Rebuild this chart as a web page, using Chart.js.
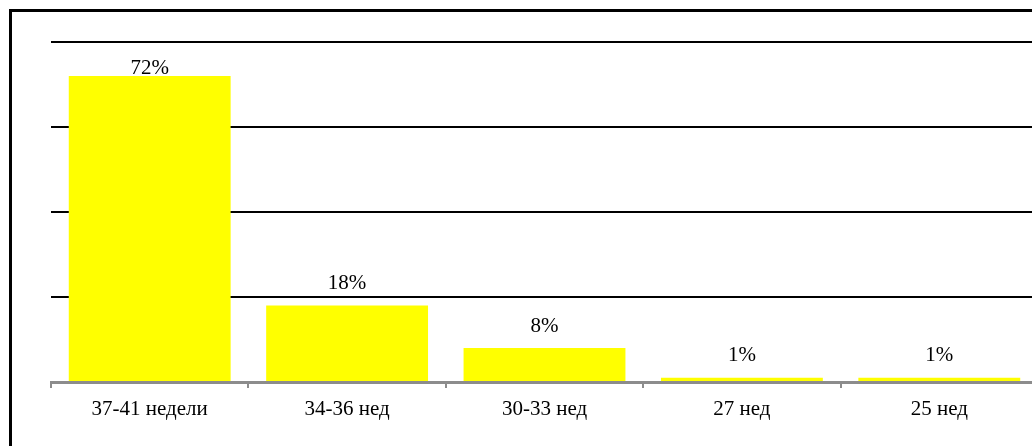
<!DOCTYPE html>
<html>
<head>
<meta charset="utf-8">
<script src="https://cdn.jsdelivr.net/npm/chart.js@4/dist/chart.umd.min.js"></script>
<style>
  html, body { margin: 0; padding: 0; background: #fff; overflow: hidden; width: 1032px; height: 446px; }
  #ramka { position: absolute; left: 9px; top: 9px; width: 1100px; height: 500px; border: 3px solid #000; box-sizing: border-box; }
  #wrap { position: absolute; left: 0; top: 0; width: 1040px; height: 446px; }
</style>
</head>
<body>
<div id="ramka"></div>
<div id="wrap"><canvas id="grafik"></canvas></div>
<script>
// Срок родов: доля детей по неделям гестации
const kategorii = ['37-41 недели', '34-36 нед', '30-33 нед', '27 нед', '25 нед'];
const procenty = [72, 18, 8, 1, 1];
const yMetki = [0, 20, 40, 60, 80];

const shrift = { family: '"Liberation Serif", "Times New Roman", serif', size: 21 };

// подписи значений над столбцами
const podpisi = {
  id: 'podpisi',
  afterDatasetsDraw(chart) {
    const ctx = chart.ctx;
    const meta = chart.getDatasetMeta(0);
    const verh = chart.chartArea.top;
    ctx.save();
    ctx.font = shrift.size + 'px ' + shrift.family;
    ctx.fillStyle = '#000';
    ctx.textAlign = 'center';
    ctx.textBaseline = 'middle';
    meta.data.forEach((bar, i) => {
      const y = Math.max(bar.y - 22, verh + 26);
      ctx.fillText(procenty[i] + '%', bar.x, y);
    });
    ctx.restore();
  }
};

new Chart(document.getElementById('grafik'), {
  type: 'bar',
  data: {
    labels: kategorii,
    datasets: [{
      data: procenty,
      backgroundColor: '#ffff00',
      borderWidth: 0,
      barPercentage: 0.82,
      categoryPercentage: 1
    }]
  },
  options: {
    responsive: true,
    maintainAspectRatio: false,
    animation: false,
    layout: { padding: { left: 51, top: 42, right: 2, bottom: 0 } },
    plugins: { legend: { display: false }, tooltip: { enabled: false } },
    scales: {
      x: {
        afterFit: (s) => { s.height = 64; },
        grid: { display: true, drawOnChartArea: false, color: '#8c8c8c', lineWidth: 2, tickLength: 6, offset: true },
        border: { display: true, color: '#8c8c8c', width: 3 },
        ticks: { color: '#000', font: shrift, padding: 9 }
      },
      y: {
        min: 0,
        max: 80,
        afterFit: (s) => { s.width = 0; },
        afterBuildTicks: (s) => { s.ticks = yMetki.map(v => ({ value: v })); },
        ticks: { display: false },
        border: { display: false },
        grid: {
          drawTicks: false,
          lineWidth: 2,
          color: (c) => c.tick && c.tick.value === 0 ? 'rgba(0,0,0,0)' : '#000'
        }
      }
    }
  },
  plugins: [podpisi]
});
</script>
</body>
</html>
